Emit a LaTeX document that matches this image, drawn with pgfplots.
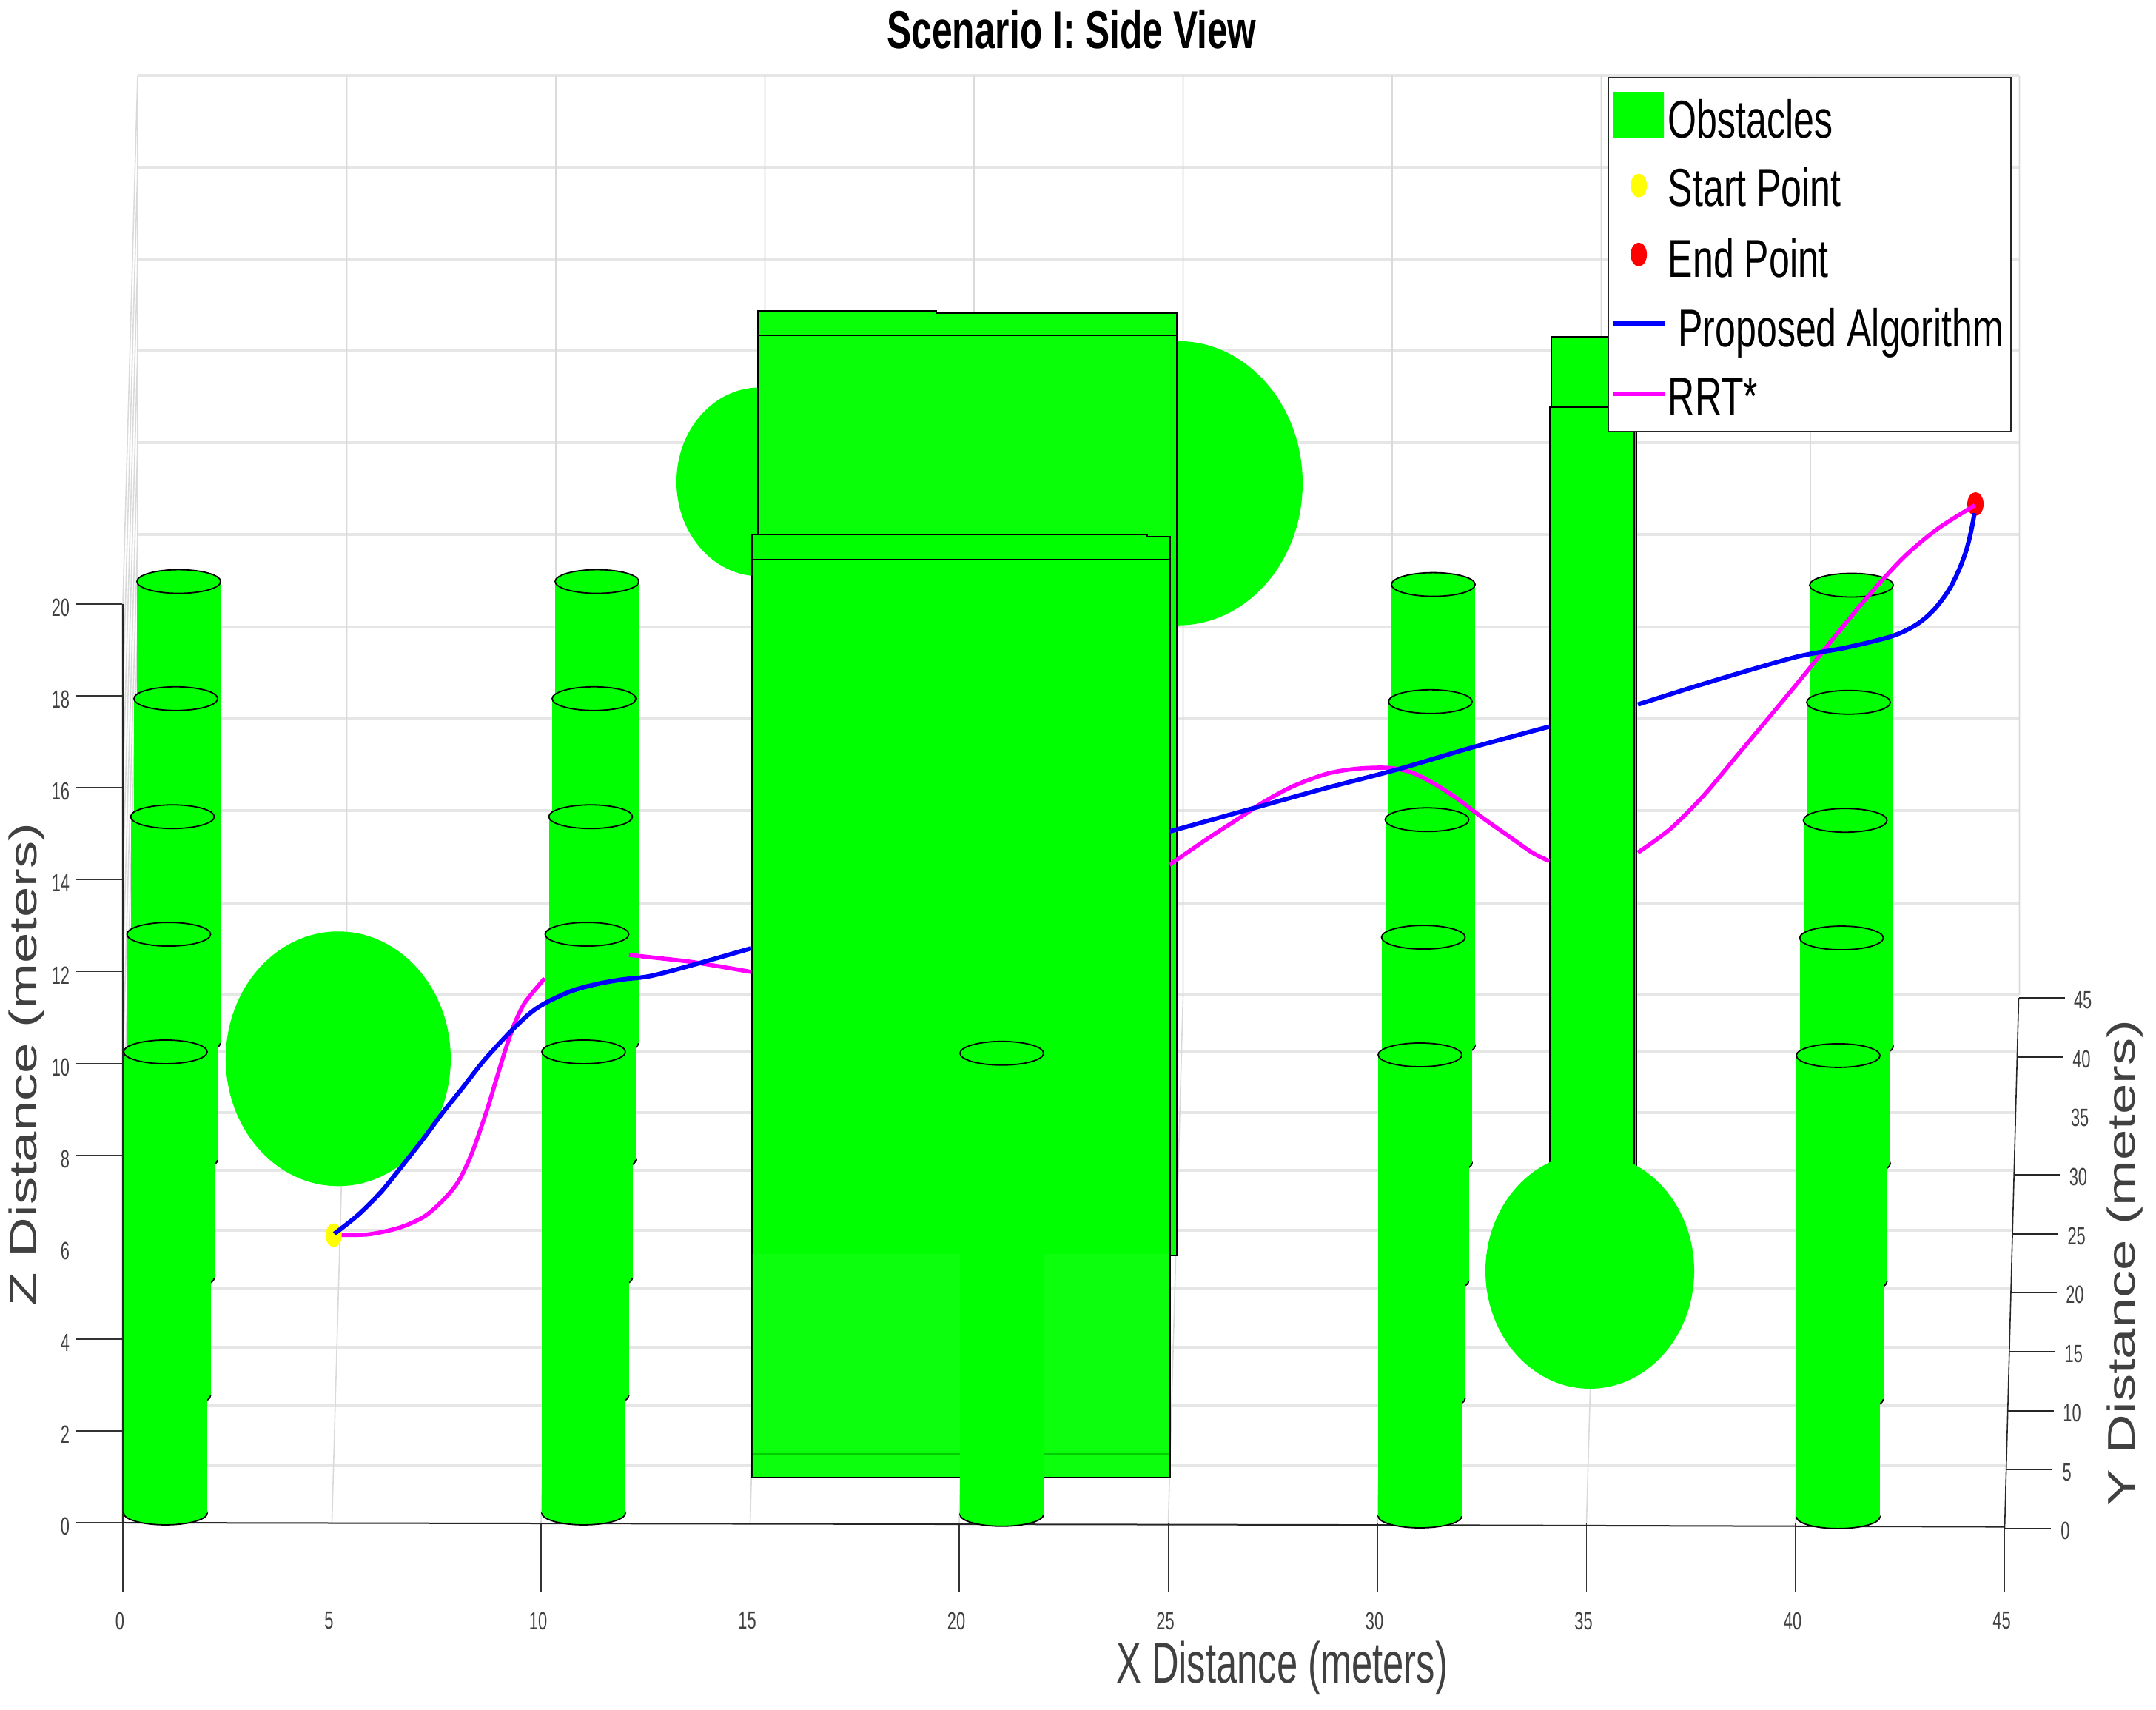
\documentclass[border=0pt]{standalone}
\usepackage{fontspec}
\usepackage{pgfplots}
\pgfplotsset{compat=1.18}
\setmainfont{Liberation Sans}
\newfontfamily\tickf[FakeStretch=0.65]{Liberation Sans}
\newfontfamily\narrowf[FakeStretch=0.695]{Liberation Sans}
\newfontfamily\xlabf[FakeStretch=0.65]{Liberation Sans}
\newfontfamily\widef[FakeStretch=1.43]{Liberation Sans}
\newfontfamily\titlef[FakeStretch=0.69]{Liberation Sans Bold}
\definecolor{obst}{HTML}{00FF00}
\definecolor{obstb}{HTML}{08FF08}
\definecolor{obstc}{HTML}{0CFF0C}
\definecolor{gridh}{HTML}{E6E6E6}
\definecolor{gridv}{HTML}{DADADA}
\definecolor{labc}{HTML}{404040}
\definecolor{pathm}{HTML}{FF00FF}
\definecolor{pathb}{HTML}{0000FF}
\definecolor{starty}{HTML}{FFFF00}
\definecolor{endr}{HTML}{FF0000}
\pgfdeclareplotmark{cyl}{%
  \pgfpathellipse{\pgfpointorigin}{\pgfqpoint{14.125pt}{0pt}}{\pgfqpoint{0pt}{4pt}}\pgfusepathqfillstroke
  \pgfpathrectangle{\pgfqpoint{-14.125pt}{0pt}}{\pgfqpoint{28.25pt}{155.75pt}}\pgfusepathqfill
  \pgfpathellipse{\pgfqpoint{0pt}{155.75pt}}{\pgfqpoint{14.125pt}{0pt}}{\pgfqpoint{0pt}{4pt}}\pgfusepathqfillstroke
}
\pgfdeclareplotmark{sphA}{\pgfpathellipse{\pgfpointorigin}{\pgfqpoint{38pt}{0pt}}{\pgfqpoint{0pt}{43pt}}\pgfusepathqfill}
\pgfdeclareplotmark{sphB}{\pgfpathellipse{\pgfpointorigin}{\pgfqpoint{28.125pt}{0pt}}{\pgfqpoint{0pt}{31.875pt}}\pgfusepathqfill}
\pgfdeclareplotmark{sphC}{\pgfpathellipse{\pgfpointorigin}{\pgfqpoint{42.125pt}{0pt}}{\pgfqpoint{0pt}{48pt}}\pgfusepathqfill}
\pgfdeclareplotmark{sphD}{\pgfpathellipse{\pgfpointorigin}{\pgfqpoint{35.25pt}{0pt}}{\pgfqpoint{0pt}{39.75pt}}\pgfusepathqfill}
\pgfdeclareplotmark{endpt}{\pgfpathellipse{\pgfpointorigin}{\pgfqpoint{2.75pt}{0pt}}{\pgfqpoint{0pt}{4pt}}\pgfusepathqfill}
\pgfplotsset{frame3d/.style={
  at={(0pt,0pt)},anchor=south west,
  x=14.125pt,y=15.5125pt,
  xmin=0,xmax=45.35,ymin=0,ymax=31.51,
  clip=false,unbounded coords=jump}}
\begin{document}
\begin{tikzpicture}
\useasboundingbox (-41.5pt,-63.25pt) rectangle (686.75pt,514.25pt);
% ================= layer 1: frame, grid, far spheres
\begin{axis}[frame3d,
  axis x line*=bottom,axis y line*=left,
  axis line style={draw=none},
  xtick={0,5,...,45},ytick={0,2,...,20},
  tick align=outside,
  xtick style={black!80,line width=.4pt,/pgfplots/major tick length=23.25pt},
  ytick style={black!80,line width=.4pt,/pgfplots/major tick length=15.75pt},
  /pgf/number format/assume math mode=true,
  xticklabel style={font=\tickf\fontsize{8.4}{10}\selectfont,text=labc,inner sep=0pt,anchor=north,yshift=-25.75pt,xshift=-1pt},
  yticklabel style={font=\tickf\fontsize{8.4}{10}\selectfont,text=labc,inner sep=0pt,anchor=east,xshift=-13.5pt,yshift=-1.25pt},
  title={Scenario I: Side View},
  title style={at={(axis cs:22.69,32.12)},anchor=center,inner sep=0pt,font=\titlef\fontsize{18}{20}\selectfont,text=black},
  xlabel={X Distance (meters)},
  xlabel style={at={(axis cs:27.72,-3.17)},anchor=center,inner sep=0pt,font=\xlabf\fontsize{19.5}{22}\selectfont,text=labc},
  ylabel={Z Distance (meters)},
  ylabel style={at={(axis cs:-2.30,9.98)},anchor=center,inner sep=0pt,rotate=0,font=\widef\fontsize{13}{15}\selectfont,text=labc},
]
\addplot[gridh,line width=.9pt] coordinates {
(0.354,11.49)(45.35,11.49)(0,nan)(0.354,13.49)(45.35,13.49)(0,nan)(0.354,15.50)(45.35,15.50)(0,nan)
(0.354,17.50)(45.35,17.50)(0,nan)(0.354,19.50)(45.35,19.50)(0,nan)(0.354,21.51)(45.35,21.51)(0,nan)
(0.354,23.51)(45.35,23.51)(0,nan)(0.354,25.51)(45.35,25.51)(0,nan)(0.354,27.51)(45.35,27.51)(0,nan)
(0.354,29.51)(45.35,29.51)(0,nan)(0.354,31.51)(45.35,31.51)(0,nan)
(0.316,10.25)(45.316,10.25)(0,nan)(0.275,8.93)(45.275,8.93)(0,nan)(0.236,7.67)(45.236,7.67)(0,nan)
(0.196,6.37)(45.196,6.37)(0,nan)(0.157,5.11)(45.157,5.11)(0,nan)(0.118,3.82)(45.118,3.82)(0,nan)
(0.079,2.55)(45.079,2.55)(0,nan)(0.038,1.24)(45.038,1.24)
};
\addplot[gridv,line width=.4pt] coordinates {
(0.354,11.49)(0.354,31.51)(0,nan)(5.354,11.49)(5.354,31.51)(0,nan)(10.354,11.49)(10.354,31.51)(0,nan)
(15.354,11.49)(15.354,31.51)(0,nan)(20.354,11.49)(20.354,31.51)(0,nan)(25.354,11.49)(25.354,31.51)(0,nan)
(30.354,11.49)(30.354,31.51)(0,nan)(35.354,11.49)(35.354,31.51)(0,nan)(40.354,11.49)(40.354,31.51)(0,nan)
(45.354,11.49)(45.354,31.51)(0,nan)
(5,0)(5.354,11.49)(0,nan)(10,0)(10.354,11.49)(0,nan)(15,0)(15.354,11.49)(0,nan)(20,0)(20.354,11.49)(0,nan)
(25,0)(25.354,11.49)(0,nan)(30,0)(30.354,11.49)(0,nan)(35,0)(35.354,11.49)(0,nan)(40,0)(40.354,11.49)(0,nan)
(0,2)(0.354,13.49)(0,nan)(0,4)(0.354,15.50)(0,nan)(0,6)(0.354,17.50)(0,nan)(0,8)(0.354,19.50)(0,nan)
(0,10)(0.354,21.51)(0,nan)(0,12)(0.354,23.51)(0,nan)(0,14)(0.354,25.51)(0,nan)(0,16)(0.354,27.51)(0,nan)
(0,18)(0.354,29.51)(0,nan)(0,20)(0.354,31.51)
};
\addplot[black!85,line width=.5pt] coordinates {(0,20)(0,0)(30,-0.05)(45,-0.09)};
\addplot[black!85,line width=.4pt] coordinates {(45,-0.129)(45.336,11.424)};
\addplot[black!85,line width=.4pt] coordinates {
(45.000,-0.129)(46.097,-0.129)(0,nan)(45.037,1.155)(46.134,1.155)(0,nan)(45.075,2.438)(46.172,2.438)(0,nan)
(45.112,3.722)(46.209,3.722)(0,nan)(45.149,5.006)(46.246,5.006)(0,nan)(45.187,6.289)(46.284,6.289)(0,nan)
(45.224,7.573)(46.321,7.573)(0,nan)(45.261,8.857)(46.358,8.857)(0,nan)(45.298,10.14)(46.395,10.14)(0,nan)
(45.336,11.424)(46.433,11.424)
};
\addplot[only marks,mark=sphA,mark options={fill=obst,draw=none}] coordinates {(5.150,10.10)};
\addplot[only marks,mark=sphB,mark options={fill=obst,draw=none}] coordinates {(15.23,22.66)};
\addplot[only marks,mark=sphC,mark options={fill=obst,draw=none}] coordinates {(25.23,22.63)};
\begin{scope}[every node/.style={font=\tickf\fontsize{8.4}{10}\selectfont,text=labc,inner sep=0pt,anchor=center}]
\node at (axis cs:46.45,-0.18) {0};
\node at (axis cs:46.49,1.10) {5};
\node at (axis cs:46.61,2.39) {10};
\node at (axis cs:46.65,3.67) {15};
\node at (axis cs:46.68,4.96) {20};
\node at (axis cs:46.72,6.24) {25};
\node at (axis cs:46.76,7.52) {30};
\node at (axis cs:46.80,8.81) {35};
\node at (axis cs:46.84,10.09) {40};
\node at (axis cs:46.87,11.37) {45};
\end{scope}
\node[font=\widef\fontsize{13}{15}\selectfont,text=labc,inner sep=0pt,rotate=90,anchor=center] at (axis cs:47.88,5.66) {Y Distance (meters)};
\end{axis}
% ================= layer 2: boxes, near sphere, cylinders, end points
\begin{axis}[frame3d,hide axis]
\addplot[fill=obstb,draw=black,line width=.5pt] coordinates {(15.193,5.818)(25.204,5.818)(25.204,25.855)(15.193,25.855)(15.193,5.818)};
\addplot[fill=obstb,draw=black,line width=.5pt] coordinates {(15.193,25.855)(15.193,26.382)(19.451,26.382)(19.451,26.339)(25.204,26.339)(25.204,25.855)(15.193,25.855)};
\addplot[fill=obst,draw=black,line width=.5pt] coordinates {(15.037,0.975)(25.037,0.975)(25.037,20.973)(15.037,20.973)(15.037,0.975)};
\addplot[fill=obst,draw=black,line width=.5pt] coordinates {(15.037,20.973)(15.037,21.509)(24.504,21.509)(24.504,21.467)(25.037,21.467)(25.037,20.973)(15.037,20.973)};
\addplot[fill=obstc,draw=none] coordinates {(15.06,1.0)(25.01,1.0)(25.01,5.85)(15.06,5.85)(15.06,1.0)};
\addplot[draw=black!20!obst,line width=.4pt] coordinates {(15.06,1.499)(25.01,1.499)};
\addplot[fill=obst,draw=black,line width=.5pt] coordinates {(34.166,7.04)(36.202,7.04)(36.202,25.81)(34.166,25.81)(34.166,7.04)};
\addplot[fill=obst,draw=black,line width=.5pt] coordinates {(34.12,7.04)(36.142,7.04)(36.142,24.28)(34.12,24.28)(34.12,7.04)};
\addplot[only marks,mark=sphD,mark options={fill=obst,draw=none}] coordinates {(35.08,5.48)};
\addplot[only marks,mark=cyl,mark options={fill=obst,draw=black,line width=.45pt}] coordinates {
(1.337,10.45)(1.266,7.90)(1.186,5.33)(1.098,2.77)(1.018,0.21)
(11.337,10.45)(11.266,7.90)(11.186,5.33)(11.098,2.77)(11.018,0.21)
(21.018,0.18)
(31.337,10.385)(31.266,7.835)(31.186,5.265)(31.098,2.705)(31.018,0.145)
(41.337,10.37)(41.266,7.82)(41.186,5.25)(41.098,2.69)(41.018,0.13)
};
\addplot[only marks,mark=endpt,mark options={fill=starty,draw=none}] coordinates {(5.044,6.26)};
\addplot[only marks,mark=endpt,mark options={fill=endr,draw=none}] coordinates {(44.301,22.176)};
\end{axis}
% ================= layer 3: paths and legend
\begin{axis}[frame3d,hide axis]
\addplot[pathm,line width=1.4pt,smooth,tension=.5] coordinates {
(5.234,6.264)(5.9,6.28)(6.619,6.425)(7.209,6.667)(7.681,7.043)(8.035,7.446)(8.331,8.010)(8.566,8.601)(8.743,9.085)(8.920,9.621)(9.156,10.319)(9.363,10.857)(9.62,11.33)(10.088,11.850)};
\addplot[pathm,line width=1.4pt,smooth,tension=.5] coordinates {
(12.106,12.361)(12.637,12.308)(13.664,12.200)(15.027,11.990)};
\addplot[pathm,line width=1.4pt,smooth,tension=.5] coordinates {
(25.027,14.322)(25.929,14.886)(26.655,15.315)(27.285,15.692)(28.0,16.040)(28.814,16.310)(29.540,16.417)(30.265,16.433)(30.805,16.337)(31.345,16.095)(31.894,15.773)(32.522,15.343)(33.150,14.940)(33.699,14.590)(34.106,14.403)};
\addplot[pathm,line width=1.4pt,smooth,tension=.5] coordinates {
(36.230,14.590)(37.0,15.10)(37.8,15.83)(38.6,16.70)(39.4,17.57)(40.2,18.45)(41.0,19.36)(41.8,20.24)(42.6,21.03)(43.4,21.64)(44.289,22.149)};
\addplot[pathb,line width=1.5pt,smooth,tension=.5] coordinates {
(5.057,6.290)(5.616,6.693)(6.177,7.204)(6.678,7.768)(7.209,8.385)(7.623,8.896)(8.094,9.433)(8.625,10.051)(9.216,10.641)(9.747,11.099)(10.159,11.341)(10.749,11.583)(11.340,11.728)(11.929,11.824)(12.637,11.905)(13.664,12.151)(15.027,12.506)};
\addplot[pathb,line width=1.5pt,smooth] coordinates {
(25.027,15.048)(26.832,15.504)(28.637,15.960)(30.442,16.390)(32.248,16.873)(34.106,17.330)};
\addplot[pathb,line width=1.5pt,smooth,tension=.5] coordinates {
(36.230,17.813)(37.4,18.15)(38.655,18.496)(40.071,18.860)(41.2,19.05)(42.313,19.302)(42.903,19.560)(43.315,19.882)(43.669,20.311)(43.906,20.741)(44.083,21.171)(44.200,21.600)(44.278,21.978)};
% legend: frame, swatches, real text
\addplot[fill=white,draw=black!85,line width=.5pt] coordinates {(35.52,31.46)(45.15,31.46)(45.15,23.75)(35.52,23.75)(35.52,31.46)};
\addplot[fill=obst,draw=none] coordinates {(35.63,31.15)(36.85,31.15)(36.85,30.15)(35.63,30.15)(35.63,31.15)};
\addplot[only marks,mark=endpt,mark options={fill=starty,draw=none}] coordinates {(36.25,29.11)};
\addplot[only marks,mark=endpt,mark options={fill=endr,draw=none}] coordinates {(36.25,27.61)};
\addplot[pathb,line width=1.5pt] coordinates {(35.65,26.10)(36.87,26.10)};
\addplot[pathm,line width=1.5pt] coordinates {(35.65,24.57)(36.87,24.57)};
\begin{scope}[every node/.style={font=\narrowf\fontsize{18}{20}\selectfont,text=black,inner sep=0pt,anchor=base west}]
\node at (axis cs:36.94,30.15) {Obstacles};
\node at (axis cs:36.94,28.66) {Start Point};
\node at (axis cs:36.94,27.11) {End Point};
\node at (axis cs:37.18,25.60) {Proposed Algorithm};
\node at (axis cs:36.94,24.12) {RRT*};
\end{scope}
\end{axis}
\end{tikzpicture}
\end{document}
